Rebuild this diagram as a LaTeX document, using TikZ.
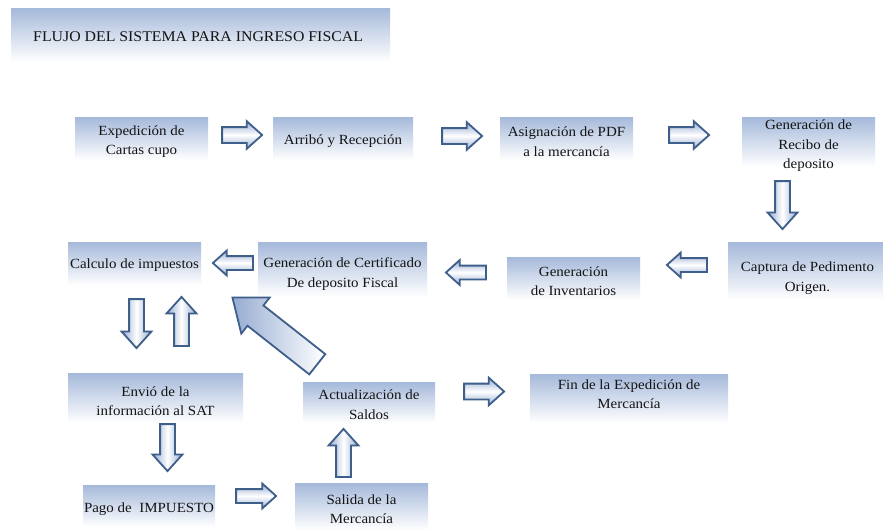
\documentclass[tikz,border=0pt]{standalone}
\usepackage{fontspec}
\setmainfont{Liberation Serif}[FakeStretch=1.07]
\usetikzlibrary{shapes.arrows,calc}
\definecolor{boxtop}{RGB}{165,185,218}
\definecolor{arrowedge}{RGB}{62,95,138}
\definecolor{arrowfill}{RGB}{150,172,210}
\definecolor{inktext}{RGB}{20,20,20}
\begin{document}
\begin{tikzpicture}[x=1pt,y=-1pt,
  stepbox/.style={top color=boxtop, bottom color=white, draw=none, inner sep=0pt},
  steptext/.style={align=center, inner sep=0pt, text=inktext,
    font=\fontsize{14}{19.5}\selectfont},
  blockarrow/.style={single arrow, draw=arrowedge, line width=1.8pt, inner sep=7pt,
    single arrow head extend=6pt, single arrow head indent=0pt, single arrow tip angle=84,
    minimum height=40pt, line join=miter, anchor=tail},
  harrow/.style={blockarrow, top color=arrowfill, bottom color=arrowfill, middle color=white},
  rarrow/.style={harrow, shape border rotate=0},
  larrow/.style={harrow, shape border rotate=180, inner sep=6pt, single arrow head extend=5.5pt},
  varrow/.style={blockarrow, left color=arrowfill, right color=arrowfill, middle color=white,
    inner sep=6.5pt, single arrow head extend=7.5pt, minimum height=48pt},
  darrow/.style={varrow, shape border rotate=270},
  uarrow/.style={varrow, shape border rotate=90},
]
\useasboundingbox (0,0) rectangle (883,530);
\fill[white] (0,0) rectangle (883,530);

% title banner
\node[stepbox, minimum width=379pt, minimum height=54pt] (banner) at (200.5,35) {};
\node[anchor=west, text=inktext, font=\fontsize{14.8}{17}\selectfont, inner sep=0pt]
  (title) at (33,37) {FLUJO DEL SISTEMA PARA INGRESO FISCAL};

% process step boxes
\node[stepbox, minimum width=133pt, minimum height=43pt] (exp)  at (141.5,138.5) {};
\node[stepbox, minimum width=140pt, minimum height=43pt] (arr)  at (343,138.5) {};
\node[stepbox, minimum width=133pt, minimum height=43pt] (asig) at (566.5,138.5) {};
\node[stepbox, minimum width=133pt, minimum height=50pt] (rec)  at (808.5,142) {};
\node[stepbox, minimum width=155pt, minimum height=58pt] (cap)  at (805.5,271) {};
\node[stepbox, minimum width=133pt, minimum height=43pt] (inv)  at (573.5,278.5) {};
\node[stepbox, minimum width=169pt, minimum height=55pt] (cert) at (342.5,269.5) {};
\node[stepbox, minimum width=133pt, minimum height=43pt] (calc) at (134.5,263.5) {};
\node[stepbox, minimum width=175pt, minimum height=50pt] (env)  at (155.5,398) {};
\node[stepbox, minimum width=132pt, minimum height=42pt] (pago) at (149,506) {};
\node[stepbox, minimum width=133pt, minimum height=47pt] (sal)  at (361.5,506.5) {};
\node[stepbox, minimum width=132pt, minimum height=41pt] (act)  at (369,402.5) {};
\node[stepbox, minimum width=198pt, minimum height=49pt] (fin)  at (629,398.5) {};

% step labels
\node[steptext] (expT)  at ($(exp.center)+(0,3)$)  {Expedición de\\Cartas cupo};
\node[steptext] (arrT)  at ($(arr.center)+(0,3)$)  {Arribó y Recepción};
\node[steptext] (asigT) at ($(asig.center)+(0,3)$) {Asignación de PDF\\a la mercancía};
\node[steptext] (recT)  at ($(rec.center)+(0,4)$)  {Generación de\\Recibo de\\deposito};
\node[steptext] (capT)  at ($(cap.center)+(2,7)$) {Captura de Pedimento\\Origen.};
\node[steptext] (invT)  at ($(inv.center)+(0,2.5)$) {Generación\\de Inventarios};
\node[steptext] (certT) at ($(cert.center)+(0,4.5)$) {Generación de Certificado\\De deposito Fiscal};
\node[steptext] (calcT) at ($(calc.center)+(0,2)$) {Calculo de impuestos};
\node[steptext] (envT)  at ($(env.center)+(0,3)$)  {Envió de la\\información al SAT};
\node[steptext] (pagoT) at ($(pago.center)+(0,3)$) {Pago de~ IMPUESTO};
\node[steptext] (salT)  at ($(sal.center)+(0,2.5)$) {Salida de la\\Mercancía};
\node[steptext] (actT)  at ($(act.center)+(0,2)$)  {Actualización de\\Saldos};
\node[steptext] (finT)  at ($(fin.center)+(0,-4.5)$) {Fin de la Expedición de\\Mercancía};

% block arrows between the steps, each placed by its tail
\node[rarrow] (a1) at ($(exp.east)+(13,-3.5)$) {};
\node[rarrow] (a2) at ($(arr.east)+(28,-2.5)$) {};
\node[rarrow] (a3) at ($(asig.east)+(35,-3.5)$) {};
\node[darrow] (a4) at ($(rec.south)+(-26,13)$) {};
\node[larrow] (a5) at ($(cap.west)+(-20,-6)$) {};
\node[larrow] (a6) at ($(inv.west)+(-20,-6)$) {};
\node[larrow] (a7) at ($(cert.west)+(-4,-6.5)$) {};
\node[darrow, minimum height=49pt] (a8) at ($(calc.south)+(2,13)$) {};
\node[uarrow, minimum height=49pt] (a9) at ($(env.north)+(26,-26)$) {};
\node[blockarrow, left color=arrowfill, right color=white, rotate=141.8,
  minimum height=108pt, inner sep=12pt, single arrow head extend=10pt,
  single arrow tip angle=76] (a10) at ($(act.north)+(-51,-17)$) {};
\node[darrow, minimum height=47pt] (a11) at ($(env.south)+(12,0)$) {};
\node[rarrow, inner sep=6pt, single arrow head extend=5.5pt] (a12) at ($(pago.east)+(20,-10)$) {};
\node[uarrow] (a13) at ($(sal.north)+(-18,-5)$) {};
\node[rarrow] (a14) at ($(act.east)+(28,-11)$) {};
\end{tikzpicture}
\end{document}
